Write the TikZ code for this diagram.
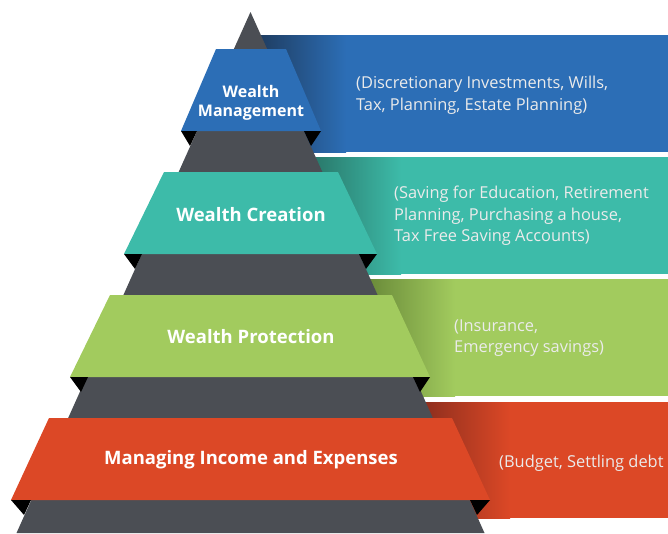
\documentclass[tikz,border=0pt]{standalone}
\usepackage{fontspec}
\setmainfont{Open Sans}
\definecolor{pyrgray}{HTML}{4B4E54}
\definecolor{wmblue}{HTML}{2C6EB6}
\definecolor{wmdark}{HTML}{1F3E63}
\definecolor{wcteal}{HTML}{3DBBA9}
\definecolor{wcdark}{HTML}{2A7A6C}
\definecolor{wpgreen}{HTML}{A2CB5E}
\definecolor{wpdark}{HTML}{6B8C3A}
\definecolor{mired}{HTML}{DC4826}
\definecolor{midark}{HTML}{8F2F1E}

\begin{document}
\begin{tikzpicture}[x=1pt, y=-1pt,
  fold/.style={fill=black},
  lbl/.style={text=white, font=\fontsize{18.5}{21}\selectfont\bfseries, align=center, inner sep=0pt},
  note/.style={text=white!92!black, font=\fontsize{16.4}{21.5}\selectfont, align=left, anchor=west, inner sep=0pt}]
\clip (0,0) rectangle (668,533);
% panels behind the pyramid
\fill[wmblue] (252,35) rectangle (668,152);
\shade[left color=wmdark, right color=wmblue] (261,35) rectangle (346,152);
\fill[wcteal] (252,157) rectangle (668,274);
\shade[left color=wcdark, right color=wcteal] (316,157) rectangle (401,274);
\fill[wpgreen] (252,279) rectangle (668,396);
\shade[left color=wpdark, right color=wpgreen] (370,279) rectangle (455,396);
\fill[mired] (252,402) rectangle (668,518);
\shade[left color=midark, right color=mired] (425,402) rectangle (510,518);
% pyramid
\fill[pyrgray] (250.5,12) -- (484.5,533) -- (16.5,533) -- cycle;
% bands with their folds
\fill[wmblue] (216,49) -- (286,49) -- (321,131) -- (181,131) -- cycle;
\fill[fold] (181,131) -- (197,131) -- (190,146) -- cycle;
\fill[fold] (321,131) -- (304,131) -- (311,146) -- cycle;
\fill[wcteal] (164,172) -- (338,172) -- (377,254) -- (124,254) -- cycle;
\fill[fold] (124,254) -- (142,254) -- (135,269) -- cycle;
\fill[fold] (377,254) -- (359,254) -- (366,269) -- cycle;
\fill[wpgreen] (110,295) -- (392,295) -- (430,377) -- (70,377) -- cycle;
\fill[fold] (70,377) -- (88,377) -- (81,392) -- cycle;
\fill[fold] (430,377) -- (413,377) -- (420,392) -- cycle;
\fill[mired] (49,418) -- (452,418) -- (490,500) -- (11,500) -- cycle;
\fill[fold] (11,500) -- (31,500) -- (24,515) -- cycle;
\fill[fold] (490,500) -- (470,500) -- (477,515) -- cycle;
% labels
\node[lbl, font=\fontsize{16}{19}\selectfont\bfseries] (wm) at (251,103) {Wealth\\Management};
\node[lbl] (wc) at (251,215) {Wealth Creation};
\node[lbl] (wp) at (251,337) {Wealth Protection};
\node[lbl] (mi) at (251,460) {Managing Income and Expenses};
% notes on the panels
\node[note] (wmnote) at (356,95) {(Discretionary Investments, Wills,\\Tax, Planning, Estate Planning)};
\node[note] (wcnote) at (394,216) {(Saving for Education, Retirement\\Planning, Purchasing a house,\\Tax Free Saving Accounts)};
\node[note] (wpnote) at (454,338) {(Insurance,\\Emergency savings)};
\node[note] (minote) at (499,463) {(Budget, Settling debt};
\end{tikzpicture}
\end{document}
